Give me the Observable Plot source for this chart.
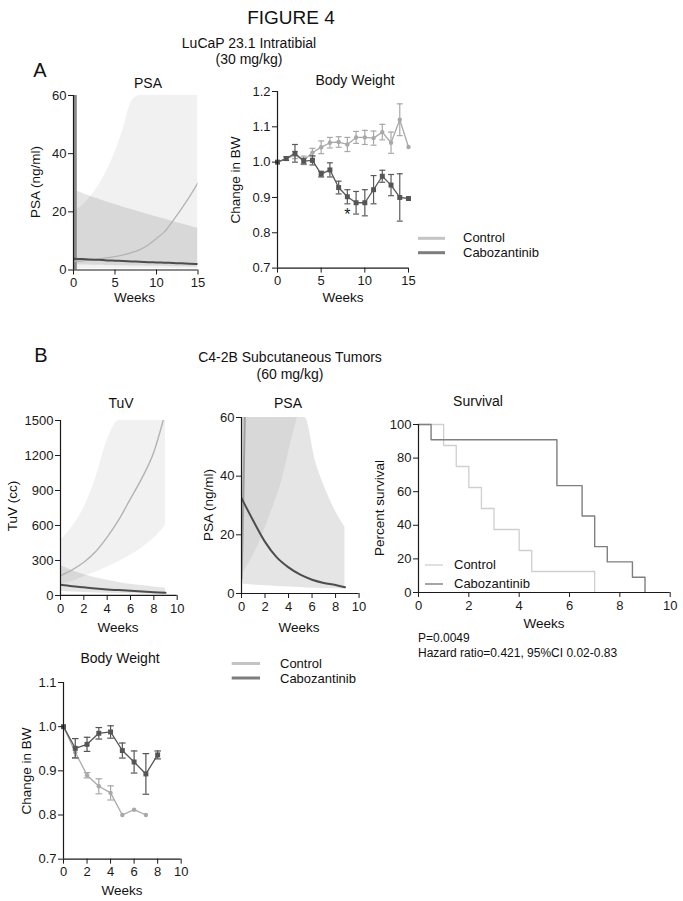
<!DOCTYPE html>
<html><head><meta charset="utf-8">
<script src="https://cdn.jsdelivr.net/npm/d3@7"></script>
<script src="https://cdn.jsdelivr.net/npm/@observablehq/plot@0.6"></script>
<style>
body{margin:0;background:#fff;}
#fig{position:relative;width:683px;height:901px;overflow:hidden;font-family:'Liberation Sans',Arial,Helvetica,sans-serif;background:#fff;}
#fig > div{position:absolute;}
#fig svg{overflow:visible;}
</style></head><body><div id="fig"></div>
<script>
// ---------- Panel A: PSA (LuCaP 23.1) ----------
const psaA_weeks   = [0,1,2,3,4,5,6,7,8,9,10,11,12,13,14,15];
const psaA_ctrl    = [3.0,3.1,3.4,3.7,4.2,4.6,5.2,6.0,7.0,8.6,10.8,13.3,17.0,21.0,25.3,30.0];
const psaA_ctrlLo  = [0.4,0.4,0.4,0.4,0.4,0.4,0.4,0.4,0.4,0.4,0.4,0.4,0.4,0.4,0.4,0.4];
const psaA_ctrlHi  = [20,22,25,29,34,40.5,48.5,58,60,60,60,60,60,60,60,60];
const psaA_cabo    = [3.9,3.8,3.6,3.5,3.3,3.2,3.1,2.95,2.85,2.7,2.6,2.5,2.4,2.3,2.15,2.05];
const psaA_caboLo  = [1.8,1.75,1.7,1.6,1.55,1.5,1.45,1.4,1.35,1.3,1.25,1.2,1.15,1.1,1.05,1.0];
const psaA_caboHi  = [27.7,26.5,25.4,24.4,23.4,22.5,21.6,20.8,19.9,19.1,18.3,17.5,16.7,15.9,15.1,14.3];
const psaA_spike   = [{w:0.22, lo:0, hi:60}];

// ---------- Panel A: Body weight ----------
const bwA_weeks   = [0,1,2,3,4,5,6,7,8,9,10,11,12,13,14,15];
const bwA_ctrl    = [1.0,1.01,1.02,1.005,1.027,1.042,1.055,1.057,1.05,1.07,1.07,1.068,1.085,1.055,1.12,1.043];
const bwA_ctrlErr = [0,0,0.01,0.012,0.012,0.018,0.015,0.015,0.02,0.017,0.02,0.02,0.022,0.03,0.045,0];
const bwA_cabo    = [1.0,1.01,1.025,1.003,1.005,0.966,0.978,0.928,0.902,0.885,0.885,0.922,0.96,0.935,0.90,0.897];
const bwA_caboErr = [0,0.005,0.025,0.008,0.013,0.008,0.02,0.018,0.02,0.032,0.037,0.04,0.017,0.03,0.067,0];
const bwA_star    = [{w:8, v:0.852, t:"*"}];

// ---------- Panel B: TuV ----------
const tuv_weeks    = [0,1,2,3,4,5,6,7,8,9];
const tuv_ctrlW    = [0,1,2,3,4,5,6,7,8,8.8];
const tuv_ctrl     = [170,220,285,375,500,650,830,1010,1230,1500];
const tuv_ctrlLo   = [90,120,160,200,245,290,345,410,490,600];
const tuv_ctrlHi   = [470,590,750,1000,1330,1500,1500,1500,1500,1500];
const tuv_cabo     = [92,80,70,60,52,46,40,34,28,24];
const tuv_caboLo   = [35,30,26,22,19,16,14,12,10,8];
const tuv_caboHi   = [257,215,180,152,130,112,97,85,72,62];

// ---------- Panel B: PSA ----------
const psaB_caboW   = [0,1,2,3,4,5,6,7,8,8.8];
const psaB_cabo    = [32.5,24.8,17.6,12.3,8.9,6.4,4.7,3.6,2.9,2.1];
const psaB_bandW   = [0,1,2,3,4,5,5.4,6.3,7.2,8.0,8.8];
const psaB_caboLo  = [3.2,2.9,2.6,2.4,2.2,2.0,1.9,1.8,1.7,1.6,1.5];
const psaB_caboHi  = [60,60,60,60,60,60,60,45,35,28,22.5];
const psaB_ctrlBandW  = [0,0.2,1.2,2.35,3.5,4.3,4.75];
const psaB_ctrlLo  = [5.5,7.2,14.5,25.9,39.5,53,60];
const psaB_ctrlHi  = [60,60,60,60,60,60,60];
const psaB_ctrlW   = [0,0.05,0.12,0.2,0.28];
const psaB_ctrl    = [5,12,25,42,60];

// ---------- Panel B: Survival ----------
const survCtrlT = [0,1,1.5,2,2.5,3,4,4.5,7];
const survCtrlS = [100,87.5,75,62.5,50,37.5,25,12.5,0];
const survCaboT = [0,0.5,5.5,6.5,7,7.5,8.5,9];
const survCaboS = [100,90.9,63.6,45.5,27.3,18.2,9.1,0];

// ---------- Panel B: Body weight ----------
const bwB_ctrlW   = [0,1,2,3,4,5,6,7];
const bwB_ctrl    = [1.0,0.942,0.89,0.865,0.85,0.80,0.812,0.80];
const bwB_ctrlErr = [0,0.012,0.006,0.017,0.016,0,0,0];
const bwB_caboW   = [0,1,2,3,4,5,6,7,8];
const bwB_cabo    = [1.0,0.951,0.96,0.985,0.988,0.946,0.92,0.893,0.936];
const bwB_caboErr = [0,0.022,0.016,0.013,0.014,0.017,0.025,0.046,0.009];

// ---------- styling ----------
const FONT = "'Liberation Sans', Arial, Helvetica, sans-serif";
const AX = "#1a1a1a";
const C_LINE = "#b3b3b3";
const fig = document.getElementById("fig");
const intFmt = d3.format("d");

function rows(ws, cols) {
  return ws.map((w, i) => { const o = {w}; for (const k in cols) o[k] = cols[k][i]; return o; });
}

function panel({x0, x1, yTop, yBot, xDomain, yDomain, xTicks, yTicks, yFormat, marks}) {
  const ML = 45, MR = 12, MT = 12, MB = 30;
  const plot = Plot.plot({
    width: x1 - x0 + ML + MR,
    height: yBot - yTop + MT + MB,
    marginLeft: ML, marginRight: MR, marginTop: MT, marginBottom: MB,
    x: {domain: xDomain},
    y: {domain: yDomain},
    style: {fontFamily: FONT, fontSize: "13px", color: AX, background: "transparent", overflow: "visible", maxWidth: "none"},
    marks: [
      ...marks,
      Plot.ruleY([yDomain[0]], {stroke: AX, strokeWidth: 1.2}),
      Plot.ruleX([xDomain[0]], {stroke: AX, strokeWidth: 1.2}),
      Plot.axisX({ticks: xTicks, tickSize: 5, tickPadding: 3, label: null, tickFormat: intFmt}),
      Plot.axisY({ticks: yTicks, tickSize: 5, tickPadding: 2, label: null, tickFormat: yFormat || intFmt})
    ]
  });
  const d = document.createElement("div");
  d.style.left = (x0 - ML) + "px";
  d.style.top = (yTop - MT) + "px";
  d.appendChild(plot);
  fig.appendChild(d);
}

function errMarks(data, color, cw) {
  const e = data.filter(d => d.e > 0);
  return [
    Plot.ruleX(e, {x: "w", y1: d => d.v - d.e, y2: d => d.v + d.e, stroke: color, strokeWidth: 1.2}),
    Plot.link(e, {x1: d => d.w - cw, x2: d => d.w + cw, y1: d => d.v + d.e, y2: d => d.v + d.e, stroke: color, strokeWidth: 1.2}),
    Plot.link(e, {x1: d => d.w - cw, x2: d => d.w + cw, y1: d => d.v - d.e, y2: d => d.v - d.e, stroke: color, strokeWidth: 1.2})
  ];
}

// ---- A: PSA ----
{
  const ctrl = rows(psaA_weeks, {v: psaA_ctrl, lo: psaA_ctrlLo, hi: psaA_ctrlHi});
  const cabo = rows(psaA_weeks, {v: psaA_cabo, lo: psaA_caboLo, hi: psaA_caboHi});
  panel({x0: 72.5, x1: 197, yTop: 94.5, yBot: 269, xDomain: [0, 15], yDomain: [0, 60],
    xTicks: [0, 5, 10, 15], yTicks: [0, 20, 40, 60],
    marks: [
      Plot.areaY(ctrl, {x: "w", y1: "lo", y2: "hi", fill: "#000", fillOpacity: 0.055, curve: "monotone-x", clip: true}),
      Plot.areaY(cabo, {x: "w", y1: "lo", y2: "hi", fill: "#000", fillOpacity: 0.10, curve: "monotone-x", clip: true}),
      Plot.ruleX(psaA_spike, {x: "w", y1: "lo", y2: "hi", stroke: "#8c8c8c", strokeWidth: 3}),
      Plot.line(ctrl, {x: "w", y: "v", stroke: C_LINE, strokeWidth: 1.3, curve: "monotone-x", clip: true}),
      Plot.line(cabo, {x: "w", y: "v", stroke: "#4d4d4d", strokeWidth: 2, curve: "monotone-x", clip: true})
    ]});
}

// ---- A: Body weight ----
{
  const ctrl = rows(bwA_weeks, {v: bwA_ctrl, e: bwA_ctrlErr});
  const cabo = rows(bwA_weeks, {v: bwA_cabo, e: bwA_caboErr});
  panel({x0: 277.3, x1: 408.3, yTop: 90.7, yBot: 267.3, xDomain: [0, 15], yDomain: [0.7, 1.2],
    xTicks: [0, 5, 10, 15], yTicks: [0.7, 0.8, 0.9, 1.0, 1.1, 1.2], yFormat: d3.format(".1f"),
    marks: [
      ...errMarks(ctrl, "#a8a8a8", 0.34),
      Plot.line(ctrl, {x: "w", y: "v", stroke: "#aaaaaa", strokeWidth: 1.3}),
      Plot.dot(ctrl, {x: "w", y: "v", r: 2.2, fill: "#a8a8a8"}),
      ...errMarks(cabo, "#5a5a5a", 0.34),
      Plot.line(cabo, {x: "w", y: "v", stroke: "#5a5a5a", strokeWidth: 1.3}),
      Plot.dot(cabo, {x: "w", y: "v", r: 2.8, symbol: "square", fill: "#555"}),
      Plot.text(bwA_star, {x: "w", y: "v", text: "t", fontSize: 16, fill: "#222"})
    ]});
}

// ---- B: TuV ----
{
  const ctrlBand = rows(tuv_weeks, {lo: tuv_ctrlLo, hi: tuv_ctrlHi});
  const ctrl = rows(tuv_ctrlW, {v: tuv_ctrl});
  const cabo = rows(tuv_weeks, {v: tuv_cabo, lo: tuv_caboLo, hi: tuv_caboHi});
  panel({x0: 60, x1: 176.7, yTop: 420, yBot: 595, xDomain: [0, 10], yDomain: [0, 1500],
    xTicks: [0, 2, 4, 6, 8, 10], yTicks: [0, 300, 600, 900, 1200, 1500],
    marks: [
      Plot.areaY(ctrlBand, {x: "w", y1: "lo", y2: "hi", fill: "#000", fillOpacity: 0.055, curve: "monotone-x", clip: true}),
      Plot.areaY(cabo, {x: "w", y1: "lo", y2: "hi", fill: "#000", fillOpacity: 0.10, curve: "monotone-x", clip: true}),
      Plot.line(ctrl, {x: "w", y: "v", stroke: C_LINE, strokeWidth: 1.4, curve: "monotone-x", clip: true}),
      Plot.line(cabo, {x: "w", y: "v", stroke: "#4d4d4d", strokeWidth: 2, curve: "monotone-x", clip: true})
    ]});
}

// ---- B: PSA ----
{
  const ctrlBand = rows(psaB_ctrlBandW, {lo: psaB_ctrlLo, hi: psaB_ctrlHi});
  const caboBand = rows(psaB_bandW, {lo: psaB_caboLo, hi: psaB_caboHi});
  const ctrl = rows(psaB_ctrlW, {v: psaB_ctrl});
  const cabo = rows(psaB_caboW, {v: psaB_cabo});
  panel({x0: 240.7, x1: 358.3, yTop: 416.7, yBot: 592.7, xDomain: [0, 10], yDomain: [0, 60],
    xTicks: [0, 2, 4, 6, 8, 10], yTicks: [0, 20, 40, 60],
    marks: [
      Plot.areaY(caboBand, {x: "w", y1: "lo", y2: "hi", fill: "#000", fillOpacity: 0.10, curve: "monotone-x", clip: true}),
      Plot.areaY(ctrlBand, {x: "w", y1: "lo", y2: "hi", fill: "#000", fillOpacity: 0.055, curve: "monotone-x", clip: true}),
      Plot.line(ctrl, {x: "w", y: "v", stroke: "#a0a0a0", strokeWidth: 2, curve: "monotone-x", clip: true}),
      Plot.line(cabo, {x: "w", y: "v", stroke: "#4d4d4d", strokeWidth: 2, curve: "monotone-x", clip: true})
    ]});
}

// ---- B: Survival ----
{
  const ctrl = survCtrlT.map((t, i) => ({t, s: survCtrlS[i]}));
  const cabo = survCaboT.map((t, i) => ({t, s: survCaboS[i]}));
  panel({x0: 418.3, x1: 670, yTop: 424.3, yBot: 592.3, xDomain: [0, 10], yDomain: [0, 100],
    xTicks: [0, 2, 4, 6, 8, 10], yTicks: [0, 20, 40, 60, 80, 100],
    marks: [
      Plot.line(ctrl, {x: "t", y: "s", curve: "step-after", stroke: "#cfcfcf", strokeWidth: 1.3}),
      Plot.line(cabo, {x: "t", y: "s", curve: "step-after", stroke: "#7f7f7f", strokeWidth: 1.4})
    ]});
}

// ---- B: Body weight ----
{
  const ctrl = rows(bwB_ctrlW, {v: bwB_ctrl, e: bwB_ctrlErr});
  const cabo = rows(bwB_caboW, {v: bwB_cabo, e: bwB_caboErr});
  panel({x0: 63.3, x1: 181, yTop: 682.3, yBot: 859, xDomain: [0, 10], yDomain: [0.7, 1.1],
    xTicks: [0, 2, 4, 6, 8, 10], yTicks: [0.7, 0.8, 0.9, 1.0, 1.1], yFormat: d3.format(".1f"),
    marks: [
      ...errMarks(ctrl, "#a8a8a8", 0.28),
      Plot.line(ctrl, {x: "w", y: "v", stroke: "#aaaaaa", strokeWidth: 1.3}),
      Plot.dot(ctrl, {x: "w", y: "v", r: 2.2, fill: "#a8a8a8"}),
      ...errMarks(cabo, "#555", 0.28),
      Plot.line(cabo, {x: "w", y: "v", stroke: "#555", strokeWidth: 1.3}),
      Plot.dot(cabo, {x: "w", y: "v", r: 2.8, symbol: "square", fill: "#555"})
    ]});
}

// ---------- text & legends overlay ----------
const texts = [
  ["FIGURE 4", 291, 24, 19, "middle", 0],
  ["LuCaP 23.1 Intratibial", 249, 48, 14, "middle", 0],
  ["(30 mg/kg)", 249, 64, 14, "middle", 0],
  ["A", 40, 77, 20, "middle", 0],
  ["PSA", 148, 88, 14, "middle", 0],
  ["Body Weight", 355, 85, 14, "middle", 0],
  ["PSA (ng/ml)", 40, 182, 13.5, "middle", -90],
  ["Change in BW", 240, 180, 13.5, "middle", -90],
  ["Weeks", 134.5, 302, 13.5, "middle", 0],
  ["Weeks", 343, 302, 13.5, "middle", 0],
  ["Control", 463, 242, 13, "start", 0],
  ["Cabozantinib", 463, 257, 13, "start", 0],
  ["B", 41, 362, 20, "middle", 0],
  ["C4-2B Subcutaneous Tumors", 290, 362, 14, "middle", 0],
  ["(60 mg/kg)", 290, 379, 14, "middle", 0],
  ["TuV", 121, 408, 14, "middle", 0],
  ["PSA", 288, 408, 14, "middle", 0],
  ["Survival", 478, 406, 14, "middle", 0],
  ["TuV (cc)", 17, 506, 13.5, "middle", -90],
  ["PSA (ng/ml)", 213, 505, 13.5, "middle", -90],
  ["Percent survival", 384, 508, 13.5, "middle", -90],
  ["Weeks", 118, 632, 13.5, "middle", 0],
  ["Weeks", 299, 632, 13.5, "middle", 0],
  ["Weeks", 544, 628, 13.5, "middle", 0],
  ["Control", 454, 569, 13, "start", 0],
  ["Cabozantinib", 454, 588, 13, "start", 0],
  ["P=0.0049", 418, 642, 12, "start", 0],
  ["Hazard ratio=0.421, 95%CI 0.02-0.83", 418, 657, 12, "start", 0],
  ["Body Weight", 120, 663, 14, "middle", 0],
  ["Control", 280, 667.5, 13, "start", 0],
  ["Cabozantinib", 280, 682.5, 13, "start", 0],
  ["Change in BW", 31, 771, 13.5, "middle", -90],
  ["Weeks", 122, 895, 13.5, "middle", 0]
];
const legendLines = [
  [418, 445, 238.3, "#c4c4c4", 3], [418, 445, 252.7, "#7d7d7d", 3],
  [425, 443, 565, "#cfcfcf", 1.3], [425, 443, 584, "#7f7f7f", 1.4],
  [231.7, 260, 663.5, "#c4c4c4", 3], [231.7, 260, 678, "#7d7d7d", 3]
];
const ov = d3.select(fig).append("svg")
  .attr("width", 683).attr("height", 901)
  .style("position", "absolute").style("left", "0px").style("top", "0px")
  .style("pointer-events", "none");
ov.selectAll("line").data(legendLines).join("line")
  .attr("x1", d => d[0]).attr("x2", d => d[1]).attr("y1", d => d[2]).attr("y2", d => d[2])
  .attr("stroke", d => d[3]).attr("stroke-width", d => d[4]);
ov.selectAll("text").data(texts).join("text")
  .attr("transform", d => `translate(${d[1]},${d[2]}) rotate(${d[5]})`)
  .attr("text-anchor", d => d[4])
  .attr("font-size", d => d[3])
  .attr("font-family", FONT)
  .attr("fill", "#111")
  .text(d => d[0]);
</script></body></html>
